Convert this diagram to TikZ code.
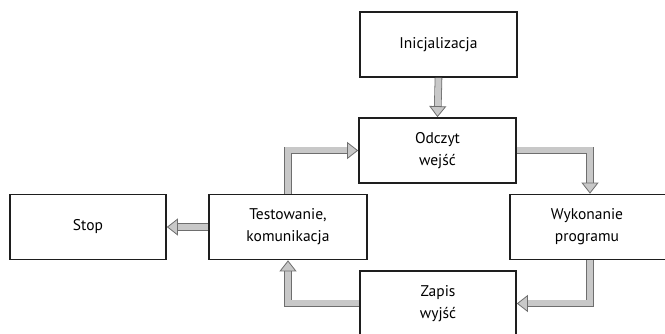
\documentclass[tikz,border=0pt]{standalone}
\usepackage{fontspec}
\setmainfont{PT Sans}
\usetikzlibrary{arrows.meta}
\definecolor{arrowfill}{HTML}{C8C8C8}
\definecolor{arrowedge}{HTML}{6E6E6E}
\definecolor{boxedge}{HTML}{1E1E1E}
\begin{document}
\begin{tikzpicture}[x=1pt,y=-1pt,
  blk/.style={draw=boxedge, line width=1.7pt, minimum width=157pt, minimum height=65pt,
    inner sep=0pt, align=center, font=\fontsize{15.5}{22}\selectfont},
  fat/.style={draw=arrowedge, line width=0.8pt, double=arrowfill, double distance=6pt, line join=miter,
    -{Triangle[length=11pt,width=17pt,fill=arrowfill,color=arrowedge,line width=0.8pt]}}]
\useasboundingbox (0,0) rectangle (665,334);
\clip (0,0) rectangle (665,334);
\node[blk] (init) at (438.5,44.5) {Inicjalizacja};
\node[blk] (odc) at (437.5,150.5) {Odczyt\\wejść};
\node[blk, minimum width=158pt] (test) at (288,227) {Testowanie,\\komunikacja};
\node[blk, minimum width=156pt] (stop) at (88,227) {Stop};
\node[blk, minimum width=160pt] (wyk) at (590,227) {\hspace*{-6pt}Wykonanie\\\hspace*{-6pt}programu};
\node[blk, minimum width=156pt] (zap) at (438,303.5) {Zapis\\wyjść};
\draw[fat] (init.south) -- (odc.north);
\draw[fat] (test.north) |- (odc.west);
\draw[fat] (odc.east) -| (wyk.north);
\draw[fat] (wyk.south) |- (zap.east);
\draw[fat] (zap.west) -| (test.south);
\draw[fat] (test.west) -- (stop.east);
\end{tikzpicture}
\end{document}
